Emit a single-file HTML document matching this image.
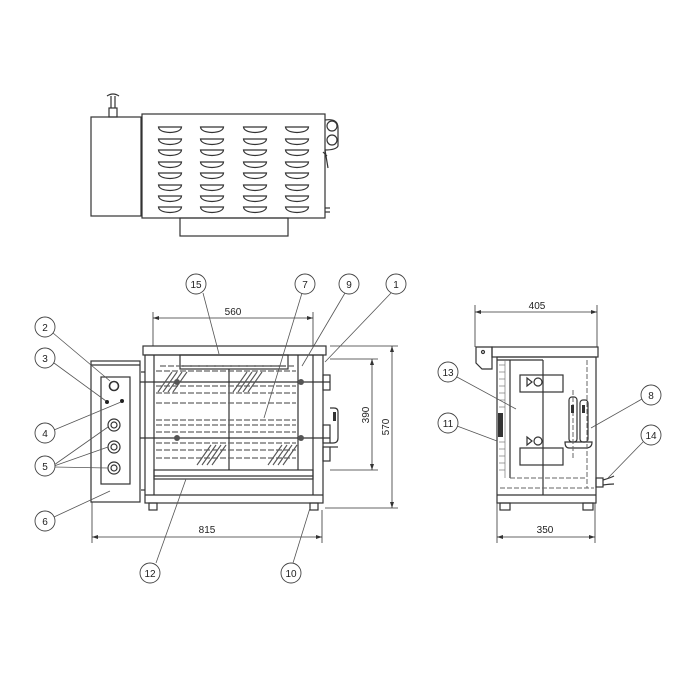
<!DOCTYPE html>
<html><head><meta charset="utf-8"><style>
html,body{margin:0;padding:0;background:#fff;}
svg{display:block;}
text{font-family:"Liberation Sans",sans-serif;font-size:10px;fill:#222;}
</style></head><body>
<svg width="700" height="700" viewBox="0 0 700 700" xmlns="http://www.w3.org/2000/svg">
<defs>
<g id="slot"><path d="M-11.5,0 H11.5 Q11,5 0,5.5 Q-11,5 -11.5,0 Z" fill="none" stroke="#333" stroke-width="1.2"/></g>
<g id="hatch" stroke="#555" stroke-width="1.1" fill="none">
<line x1="0" y1="20" x2="14" y2="0"/><line x1="5" y1="20" x2="19" y2="0"/><line x1="10" y1="20" x2="24" y2="0"/><line x1="15" y1="20" x2="29" y2="0"/>
</g>
</defs>
<g stroke="#333" stroke-width="1.2" fill="none">
<!-- TOP VIEW -->
<rect x="91" y="117" width="50" height="99"/>
<rect x="109" y="108" width="8" height="9"/>
<line x1="111" y1="96" x2="111" y2="108"/><line x1="115" y1="96" x2="115" y2="108"/>
<path d="M107,96 Q113,92 119,96"/>
<rect x="142" y="114" width="183" height="104"/>
<rect x="180" y="218" width="108" height="18"/>
<circle cx="332" cy="126" r="5"/><circle cx="332" cy="140" r="5"/>
<path d="M325,120 Q338,118 338,128 V146 Q336,150 325,150"/>
<path d="M325,150 L328,168 M323,152 L327,156"/>
<line x1="325" y1="208" x2="330" y2="208"/><line x1="325" y1="212" x2="330" y2="212"/>
</g>
<g>
<use href="#slot" x="170" y="127"/><use href="#slot" x="170" y="139"/><use href="#slot" x="170" y="150"/><use href="#slot" x="170" y="162"/><use href="#slot" x="170" y="173"/><use href="#slot" x="170" y="185"/><use href="#slot" x="170" y="196"/><use href="#slot" x="170" y="207"/>
<use href="#slot" x="212" y="127"/><use href="#slot" x="212" y="139"/><use href="#slot" x="212" y="150"/><use href="#slot" x="212" y="162"/><use href="#slot" x="212" y="173"/><use href="#slot" x="212" y="185"/><use href="#slot" x="212" y="196"/><use href="#slot" x="212" y="207"/>
<use href="#slot" x="255" y="127"/><use href="#slot" x="255" y="139"/><use href="#slot" x="255" y="150"/><use href="#slot" x="255" y="162"/><use href="#slot" x="255" y="173"/><use href="#slot" x="255" y="185"/><use href="#slot" x="255" y="196"/><use href="#slot" x="255" y="207"/>
<use href="#slot" x="297" y="127"/><use href="#slot" x="297" y="139"/><use href="#slot" x="297" y="150"/><use href="#slot" x="297" y="162"/><use href="#slot" x="297" y="173"/><use href="#slot" x="297" y="185"/><use href="#slot" x="297" y="196"/><use href="#slot" x="297" y="207"/>
</g>

<!-- FRONT VIEW -->
<g stroke="#333" stroke-width="1.2" fill="none">
<rect x="143" y="346" width="183" height="9"/>
<rect x="145" y="355" width="178" height="148"/>
<line x1="154" y1="355" x2="154" y2="495"/>
<line x1="298" y1="355" x2="298" y2="470"/>
<line x1="313" y1="355" x2="313" y2="495"/>
<rect x="180" y="355" width="108" height="14"/>
<line x1="182" y1="366" x2="286" y2="366"/>
<line x1="229" y1="369" x2="229" y2="470"/>
<rect x="154" y="470" width="159" height="9"/>
<line x1="154" y1="476" x2="313" y2="476"/>
<line x1="145" y1="495" x2="323" y2="495"/>
<rect x="149" y="503" width="8" height="7"/><rect x="310" y="503" width="8" height="7"/>
<line x1="141" y1="372" x2="145" y2="372"/><line x1="141" y1="490" x2="145" y2="490"/>
<rect x="91" y="361" width="49" height="141"/>
<line x1="91" y1="365" x2="140" y2="365"/>
<rect x="101" y="377" width="29" height="107"/>
<circle cx="114" cy="386" r="4.5" stroke-width="1.6"/>
<circle cx="114" cy="425" r="6"/><circle cx="114" cy="425" r="3"/>
<circle cx="114" cy="447" r="6"/><circle cx="114" cy="447" r="3"/>
<circle cx="114" cy="468" r="6"/><circle cx="114" cy="468" r="3"/>
<rect x="323" y="375" width="7" height="15"/>
<rect x="323" y="425" width="7" height="18"/>
<path d="M330,408 H334 Q338,408 338,412 V438 Q338,443 333,443 H330"/>
<line x1="330" y1="447" x2="338" y2="447"/>
<rect x="323" y="447" width="7" height="14" />
</g>
<rect x="333" y="412" width="3" height="9" fill="#333"/>
<circle cx="107" cy="402" r="2" fill="#222"/><circle cx="122" cy="401" r="2" fill="#222"/>
<g stroke="#666" stroke-width="1.3" fill="none" stroke-dasharray="6,2">
<line x1="156" y1="371" x2="296" y2="371"/>
<line x1="156" y1="386" x2="296" y2="386"/>
<line x1="156" y1="393" x2="296" y2="393"/>
<line x1="156" y1="403" x2="296" y2="403"/>
<line x1="156" y1="420" x2="296" y2="420"/>
<line x1="156" y1="425" x2="296" y2="425"/>
<line x1="156" y1="432" x2="296" y2="432"/>
<line x1="156" y1="443" x2="296" y2="443"/>
<line x1="156" y1="450" x2="296" y2="450"/>
<line x1="156" y1="458" x2="296" y2="458"/>
<line x1="160" y1="366" x2="296" y2="366"/>
</g>
<g stroke="#333" stroke-width="1.2">
<line x1="140" y1="382" x2="330" y2="382"/>
<line x1="140" y1="438" x2="330" y2="438"/>
</g>
<g fill="#555">
<circle cx="177" cy="382" r="3"/><circle cx="301" cy="382" r="3"/>
<circle cx="177" cy="438" r="3"/><circle cx="301" cy="438" r="3"/>
</g>
<use href="#hatch" x="158" y="372"/>
<use href="#hatch" x="233" y="372"/>
<use href="#hatch" x="197" y="445"/>
<use href="#hatch" x="268" y="445"/>

<g stroke="#333" stroke-width="0.8" fill="none">
<line x1="153" y1="312" x2="153" y2="346"/><line x1="313" y1="312" x2="313" y2="346"/>
<line x1="153" y1="318" x2="313" y2="318"/>
<line x1="92" y1="502" x2="92" y2="543"/><line x1="322" y1="510" x2="322" y2="543"/>
<line x1="92" y1="537" x2="322" y2="537"/>
<line x1="330" y1="346" x2="398" y2="346"/>
<line x1="330" y1="359" x2="378" y2="359"/>
<line x1="330" y1="470" x2="378" y2="470"/>
<line x1="325" y1="508" x2="398" y2="508"/>
<line x1="372" y1="359" x2="372" y2="470"/>
<line x1="392" y1="346" x2="392" y2="508"/>
</g>
<g fill="#333">
<path d="M153,318 l6,-2 v4z"/><path d="M313,318 l-6,-2 v4z"/>
<path d="M92,537 l6,-2 v4z"/><path d="M322,537 l-6,-2 v4z"/>
<path d="M372,359 l-2,6 h4z"/><path d="M372,470 l-2,-6 h4z"/>
<path d="M392,346 l-2,6 h4z"/><path d="M392,508 l-2,-6 h4z"/>
</g>
<text x="233" y="315" text-anchor="middle">560</text>
<text x="207" y="533" text-anchor="middle">815</text>
<text transform="translate(369,415) rotate(-90)" text-anchor="middle">390</text>
<text transform="translate(389,427) rotate(-90)" text-anchor="middle">570</text>

<!-- SIDE VIEW -->
<g stroke="#333" stroke-width="1.2" fill="none">
<rect x="492" y="347" width="106" height="10"/>
<path d="M476,347 H492 V369 H482 L476,363 Z"/>
<circle cx="483" cy="352" r="1.5"/>
<rect x="497" y="357" width="99" height="146"/>
<line x1="497" y1="495" x2="596" y2="495"/>
<line x1="510" y1="360" x2="510" y2="478"/>
<line x1="543" y1="360" x2="543" y2="495"/>
<line x1="497" y1="360" x2="543" y2="360"/>
<rect x="500" y="503" width="10" height="7"/><rect x="583" y="503" width="10" height="7"/>
<rect x="520" y="375" width="43" height="17"/>
<rect x="520" y="448" width="43" height="17"/>
<circle cx="538" cy="382" r="4"/><circle cx="538" cy="441" r="4"/>
<path d="M527,378 l5,4 l-5,4z"/><path d="M527,437 l5,4 l-5,4z"/>
<rect x="569" y="397" width="8" height="45" rx="3"/>
<rect x="580" y="400" width="8" height="42" rx="3"/>
<path d="M565,442 H592 Q592,448 586,448 H569 Q565,448 565,442 Z"/>
<rect x="596" y="478" width="7" height="9"/>
<path d="M603,480 Q610,478 614,476 M603,485 Q610,484 614,484"/>
</g>
<g stroke="#666" stroke-width="1" fill="none" stroke-dasharray="5,2">
<line x1="510" y1="478" x2="587" y2="478"/>
<line x1="500" y1="488" x2="594" y2="488"/>
<line x1="587" y1="360" x2="587" y2="488"/>
<line x1="573" y1="390" x2="573" y2="460"/>
</g>
<g stroke="#777" stroke-width="0.7">
<line x1="499" y1="365" x2="505" y2="365"/><line x1="499" y1="372" x2="505" y2="372"/><line x1="499" y1="379" x2="505" y2="379"/><line x1="499" y1="386" x2="505" y2="386"/><line x1="499" y1="393" x2="505" y2="393"/><line x1="499" y1="400" x2="505" y2="400"/><line x1="499" y1="407" x2="505" y2="407"/><line x1="499" y1="442" x2="505" y2="442"/><line x1="499" y1="449" x2="505" y2="449"/><line x1="499" y1="456" x2="505" y2="456"/><line x1="499" y1="463" x2="505" y2="463"/><line x1="499" y1="470" x2="505" y2="470"/>
<line x1="505" y1="360" x2="505" y2="478"/>
</g>
<rect x="498" y="413" width="5" height="24" fill="#333"/>
<rect x="571" y="405" width="3" height="8" fill="#333"/><rect x="582" y="405" width="3" height="8" fill="#333"/>
<g stroke="#333" stroke-width="0.8" fill="none">
<line x1="475" y1="305" x2="475" y2="347"/><line x1="597" y1="305" x2="597" y2="347"/>
<line x1="475" y1="312" x2="597" y2="312"/>
<line x1="497" y1="503" x2="497" y2="543"/><line x1="595" y1="503" x2="595" y2="543"/>
<line x1="497" y1="537" x2="595" y2="537"/>
</g>
<g fill="#333">
<path d="M475,312 l6,-2 v4z"/><path d="M597,312 l-6,-2 v4z"/>
<path d="M497,537 l6,-2 v4z"/><path d="M595,537 l-6,-2 v4z"/>
</g>
<text x="537" y="309" text-anchor="middle">405</text>
<text x="545" y="533" text-anchor="middle">350</text>

<g stroke="#555" stroke-width="0.8" fill="none">
<line x1="203" y1="293" x2="219" y2="354"/>
<line x1="302" y1="293" x2="264" y2="418"/>
<line x1="345" y1="293" x2="302" y2="366"/>
<line x1="391" y1="293" x2="325" y2="362"/>
<line x1="156" y1="563" x2="186" y2="479"/>
<line x1="293" y1="563" x2="310" y2="508"/>
<line x1="53" y1="333" x2="110" y2="381"/>
<line x1="54" y1="363" x2="106" y2="401"/>
<line x1="54" y1="430" x2="121" y2="402"/>
<line x1="54" y1="465" x2="108" y2="427"/>
<line x1="54" y1="466" x2="108" y2="447"/>
<line x1="54" y1="467" x2="108" y2="468"/>
<line x1="54" y1="517" x2="110" y2="491"/>
<line x1="457" y1="377" x2="516" y2="409"/>
<line x1="457" y1="426" x2="497" y2="441"/>
<line x1="642" y1="399" x2="591" y2="428"/>
<line x1="643" y1="442" x2="608" y2="478"/>
</g>
<g stroke="#444" stroke-width="0.9" fill="#fff">
<circle cx="196" cy="284" r="10"/><circle cx="305" cy="284" r="10"/><circle cx="349" cy="284" r="10"/><circle cx="396" cy="284" r="10"/>
<circle cx="150" cy="573" r="10"/><circle cx="291" cy="573" r="10"/>
<circle cx="45" cy="327" r="10"/><circle cx="45" cy="358" r="10"/><circle cx="45" cy="433" r="10"/><circle cx="45" cy="466" r="10"/><circle cx="45" cy="521" r="10"/>
<circle cx="448" cy="372" r="10"/><circle cx="448" cy="423" r="10"/><circle cx="651" cy="395" r="10"/><circle cx="651" cy="435" r="10"/>
</g>
<g text-anchor="middle" font-size="10">
<text x="196" y="288">15</text><text x="305" y="288">7</text><text x="349" y="288">9</text><text x="396" y="288">1</text>
<text x="150" y="577">12</text><text x="291" y="577">10</text>
<text x="45" y="331">2</text><text x="45" y="362">3</text><text x="45" y="437">4</text><text x="45" y="470">5</text><text x="45" y="525">6</text>
<text x="448" y="376">13</text><text x="448" y="427">11</text><text x="651" y="399">8</text><text x="651" y="439">14</text>
</g>
</svg>
</body></html>
